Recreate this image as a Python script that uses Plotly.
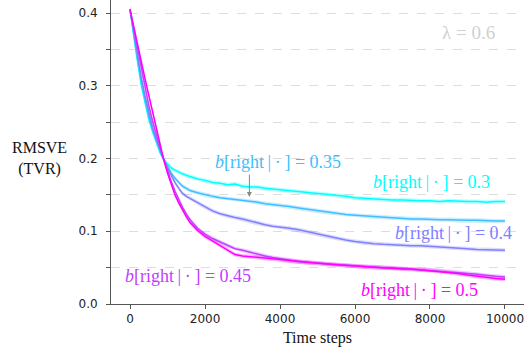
import plotly.graph_objects as go

# ---------------- data ----------------
steps = [0, 100, 200, 300, 400, 500, 600, 700, 800, 900, 1000, 1100, 1200, 1300, 1400,
         1500, 1600, 1800, 2000, 2200, 2400, 2600, 2800, 3000, 3200, 3400, 3600, 3800,
         4000, 4250, 4500, 4750, 5000, 5250, 5500, 5750, 6000, 6250, 6500, 6750, 7000,
         7250, 7500, 7750, 8000, 8250, 8500, 8750, 9000, 9250, 9500, 9750, 10000]

rmsve_b030 = [0.405, 0.365, 0.333, 0.301, 0.275, 0.254, 0.237, 0.222, 0.208, 0.198, 0.192,
              0.187, 0.184, 0.181, 0.179, 0.177, 0.175, 0.172, 0.170, 0.167, 0.166, 0.164,
              0.165, 0.162, 0.161, 0.161, 0.159, 0.158, 0.157, 0.156, 0.155, 0.153, 0.152,
              0.151, 0.150, 0.148, 0.146, 0.145, 0.144, 0.144, 0.143, 0.143, 0.142, 0.142,
              0.142, 0.141, 0.142, 0.141, 0.141, 0.141, 0.140, 0.141, 0.141]

rmsve_b035 = [0.405, 0.368, 0.337, 0.306, 0.280, 0.258, 0.240, 0.225, 0.211, 0.199, 0.189,
              0.180, 0.173, 0.167, 0.162, 0.159, 0.156, 0.153, 0.150, 0.148, 0.146, 0.145,
              0.144, 0.143, 0.142, 0.140, 0.138, 0.137, 0.136, 0.134, 0.132, 0.130, 0.128,
              0.126, 0.125, 0.123, 0.122, 0.121, 0.120, 0.119, 0.118, 0.118, 0.117, 0.117,
              0.116, 0.116, 0.116, 0.115, 0.115, 0.115, 0.114, 0.114, 0.114]

rmsve_b040 = [0.405, 0.372, 0.342, 0.312, 0.286, 0.263, 0.243, 0.227, 0.212, 0.199, 0.187,
              0.176, 0.167, 0.159, 0.152, 0.148, 0.145, 0.139, 0.133, 0.128, 0.124, 0.121,
              0.119, 0.117, 0.114, 0.111, 0.109, 0.107, 0.106, 0.104, 0.102, 0.099, 0.096,
              0.093, 0.091, 0.088, 0.086, 0.084, 0.083, 0.082, 0.081, 0.081, 0.080, 0.080,
              0.079, 0.078, 0.077, 0.077, 0.076, 0.075, 0.075, 0.074, 0.074]

rmsve_b045 = [0.405, 0.378, 0.350, 0.322, 0.296, 0.273, 0.252, 0.233, 0.215, 0.199, 0.183,
              0.168, 0.155, 0.143, 0.133, 0.124, 0.116, 0.104, 0.096, 0.090, 0.085, 0.080,
              0.076, 0.074, 0.071, 0.068, 0.066, 0.064, 0.062, 0.060, 0.058, 0.057, 0.056,
              0.055, 0.054, 0.053, 0.052, 0.051, 0.051, 0.050, 0.050, 0.049, 0.048, 0.047,
              0.047, 0.046, 0.045, 0.043, 0.042, 0.041, 0.039, 0.038, 0.037]

rmsve_b050 = [0.405, 0.380, 0.360, 0.335, 0.310, 0.287, 0.264, 0.240, 0.218, 0.198, 0.180,
              0.164, 0.150, 0.139, 0.129, 0.120, 0.112, 0.101, 0.093, 0.087, 0.081, 0.075,
              0.068, 0.066, 0.065, 0.064, 0.063, 0.062, 0.061, 0.059, 0.058, 0.057, 0.056,
              0.055, 0.054, 0.053, 0.052, 0.051, 0.050, 0.050, 0.049, 0.048, 0.048, 0.047,
              0.046, 0.045, 0.044, 0.042, 0.040, 0.038, 0.036, 0.035, 0.034]

stderr = 0.0028

series_labels = ["0.3", "0.35", "0.4", "0.45", "0.5"]
series_values = [rmsve_b030, rmsve_b035, rmsve_b040, rmsve_b045, rmsve_b050]

x_ticks = [0, 2000, 4000, 6000, 8000, 10000]
x_tick_text = ["0", "2000", "4000", "6000", "8000", "10000"]
y_ticks = [0.0, 0.1, 0.2, 0.3, 0.4]
y_tick_text = ["0.0", "0.1", "0.2", "0.3", "0.4"]

# label anchor positions (data coords) for each series label
label_x = [8030, 3950, 8630, 1547, 7730]
label_y = [0.168, 0.195, 0.0976, 0.0385, 0.0193]

lambda_text = "λ = 0.6"

# ---------------- styling ----------------
colors = [(0, 255, 255), (64, 191, 255), (128, 128, 255), (191, 64, 255), (255, 0, 255)]
SERIF = "Liberation Serif"
SANS = "DejaVu Sans"
TS = "\u2009"

fig = go.Figure()

for vals, (r, g, b) in zip(series_values, colors):
    upper = [v + stderr for v in vals]
    lower = [v - stderr for v in vals]
    fig.add_trace(go.Scatter(
        x=steps + steps[::-1], y=upper + lower[::-1],
        fill="toself", fillcolor=f"rgba({r},{g},{b},0.28)",
        line=dict(width=0), hoverinfo="skip", showlegend=False, mode="lines"))
for vals, (r, g, b) in zip(series_values, colors):
    fig.add_trace(go.Scatter(
        x=steps, y=vals, mode="lines",
        line=dict(color=f"rgb({r},{g},{b})", width=1.5), showlegend=False))

for lab, lx, ly, (r, g, b) in zip(series_labels, label_x, label_y, colors):
    fig.add_annotation(
        x=lx, y=ly, xref="x", yref="y", showarrow=False, xanchor="center", yanchor="middle",
        text=f"<i>b</i>[right{TS}|{TS}·{TS}] = {lab}",
        font=dict(family=SERIF, size=18, color=f"rgb({r},{g},{b})"))

# arrow for the 0.35 label
fig.add_annotation(
    x=3184, y=0.147, ax=3184, ay=0.180, xref="x", yref="y", axref="x", ayref="y",
    showarrow=True, arrowhead=2, arrowsize=1, arrowwidth=1, arrowcolor="#888888", text="")

fig.add_annotation(
    x=9020, y=0.373, xref="x", yref="y", showarrow=False, text=lambda_text,
    xanchor="center", yanchor="middle",
    font=dict(family=SERIF, size=19, color="#d0d0d0"))

fig.add_annotation(
    x=-0.172, y=0.48, xref="paper", yref="paper", showarrow=False,
    xanchor="center", yanchor="middle",
    text="RMSVE<br>(TVR)", align="center",
    font=dict(family=SERIF, size=16, color="#111111"))

fig.update_layout(
    width=524, height=348,
    margin=dict(l=111, r=0, t=0, b=44),
    plot_bgcolor="white", paper_bgcolor="white",
    xaxis=dict(
        range=[-507, 10507], tickvals=x_ticks, ticktext=x_tick_text, ticks="outside",
        ticklen=4, tickcolor="#555555", showline=True, linecolor="#555555", linewidth=1,
        showgrid=False, zeroline=False, ticklabeloverflow="allow",
        tickfont=dict(family=SANS, size=12, color="#222222"),
        title=dict(text="Time steps", font=dict(family=SERIF, size=16, color="#111111"),
                   standoff=6)),
    yaxis=dict(
        range=[0, 0.418], tickvals=y_ticks, ticktext=y_tick_text, ticks="outside",
        ticklen=4, tickcolor="#555555", showline=True, linecolor="#555555", linewidth=1,
        showgrid=True, gridcolor="#dddddd", griddash="dash", gridwidth=1,
        zeroline=False, ticklabelstandoff=6,
        tickfont=dict(family=SANS, size=12, color="#222222"),
        minor=dict(dtick=0.05, tick0=0, ticks="outside", ticklen=4, tickcolor="#555555",
                   showgrid=True, gridcolor="#dddddd", griddash="dash", gridwidth=1)),
)

fig.write_html("out.html")
